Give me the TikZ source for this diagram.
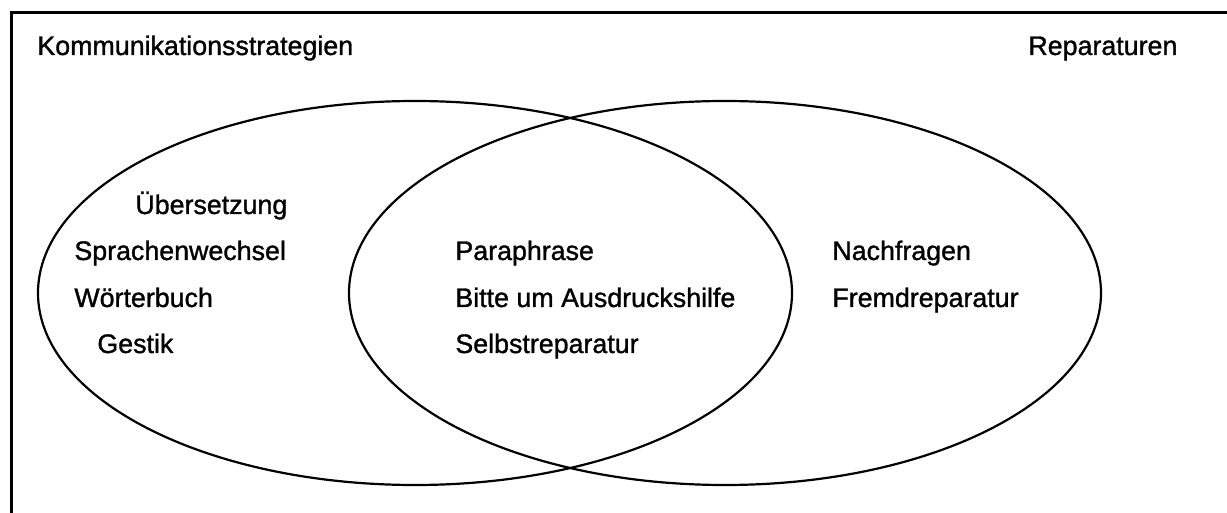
\documentclass[tikz,border=0pt]{standalone}
\usepackage{fontspec}
\setmainfont{Liberation Sans}[FakeBold=1.2]
\usetikzlibrary{positioning}

\begin{document}
\begin{tikzpicture}[x=0.5pt, y=-0.5pt,
    lbl/.style={anchor=base west, inner sep=0pt, font=\fontsize{13.4}{16}\selectfont}]
\useasboundingbox (0,0) rectangle (1227,513);

% Frame (only top and left edges visible)
\draw[line width=1.5pt] (11,513) -- (11,13) -- (1227,13);

% Two overlapping sets
\draw[line width=1.1pt] (415,293) ellipse [x radius=377, y radius=192];
\draw[line width=1.1pt] (725,293) ellipse [x radius=376, y radius=192];

% Set titles
\node[lbl] (komm) at (37,55) {Kommunikationsstrategien};
\node[lbl] (rep) at (1028,55) {Reparaturen};

% Left only
\node[lbl] (uebers) at (135,214) {Übersetzung};
\node[lbl] (sprach) at (74,260) {Sprachenwechsel};
\node[lbl] (woert) at (74,307) {Wörterbuch};
\node[lbl] (gestik) at (97,353) {Gestik};

% Overlap
\node[lbl] (para) at (455,260) {Paraphrase};
\node[lbl] (bitte) at (455,307) {Bitte um Ausdruckshilfe};
\node[lbl] (selbst) at (455,353) {Selbstreparatur};

% Right only
\node[lbl] (nachfr) at (832,260) {Nachfragen};
\node[lbl] (fremd) at (832,307) {Fremdreparatur};
\end{tikzpicture}
\end{document}
